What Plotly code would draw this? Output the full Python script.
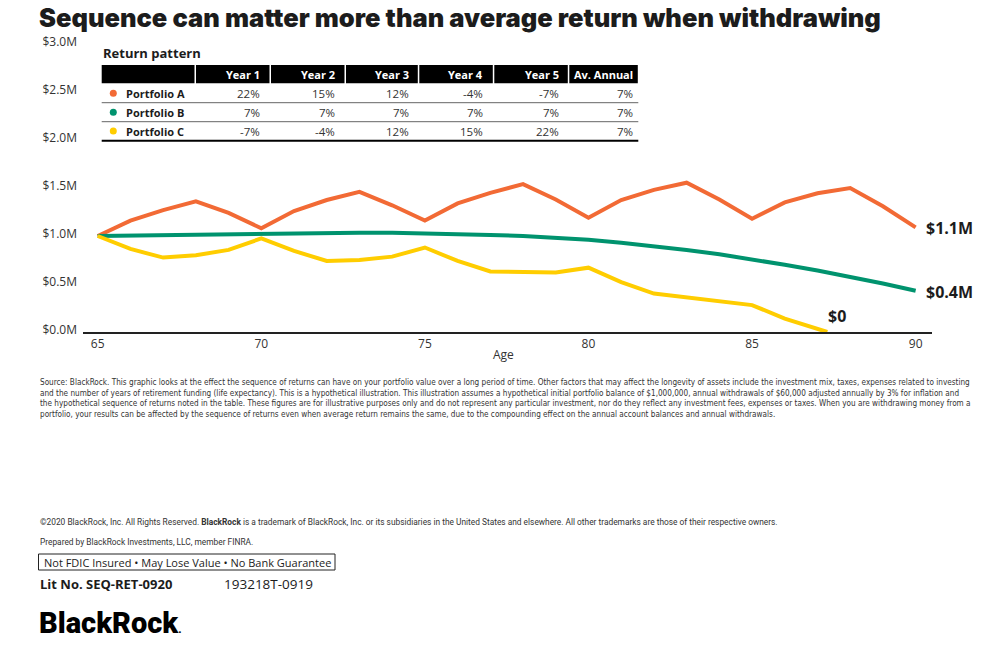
import plotly.graph_objects as go

# ---------------- data ----------------
ages = list(range(65, 91))
portfolio_a = [1.0, 1.16, 1.27, 1.36, 1.24, 1.08, 1.26, 1.375, 1.46, 1.32, 1.16, 1.34, 1.45,
               1.54, 1.38, 1.19, 1.375, 1.48, 1.555, 1.38, 1.18, 1.35, 1.445, 1.50, 1.31, 1.09]
portfolio_b = [1.0, 1.005, 1.012, 1.02, 1.025, 1.03, 1.033, 1.035, 1.035, 1.033, 1.028, 1.02, 1.01,
               1.0, 0.985, 0.96, 0.93, 0.895, 0.855, 0.81, 0.76, 0.70, 0.64, 0.575, 0.505, 0.43]
ages_c = list(range(65, 88)) + [87.3]
portfolio_c = [1.0, 0.865, 0.775, 0.80, 0.855, 0.975, 0.845, 0.74, 0.75, 0.785, 0.88, 0.74, 0.63,
               0.62, 0.62, 0.67, 0.52, 0.40, 0.36, 0.31, 0.28, 0.14, 0.03, 0.0]

y_ticks = [0, 0.5, 1.0, 1.5, 2.0, 2.5, 3.0]
y_tick_text = ["$0.0M", "$0.5M", "$1.0M", "$1.5M", "$2.0M", "$2.5M", "$3.0M"]
x_ticks = [65, 70, 75, 80, 85, 90]

table_header = ["Year 1", "Year 2", "Year 3", "Year 4", "Year 5", "Av. Annual"]
portfolio_names = ["Portfolio A", "Portfolio B", "Portfolio C"]
returns_a = ["22%", "15%", "12%", "-4%", "-7%", "7%"]
returns_b = ["7%", "7%", "7%", "7%", "7%", "7%"]
returns_c = ["-7%", "-4%", "12%", "15%", "22%", "7%"]

# ---------------- styles ----------------
ORANGE = "#F26A35"
GREEN = "#00936E"
YELLOW = "#FFCD00"
DARK = "#1c1c1c"
TXT = "#333333"
colors = [ORANGE, GREEN, YELLOW]

L, R, T, B = 83, 72, 44, 322
W, H = 1004, 654
PW, PH = W - L - R, H - T - B


def px(x):
    return (x - L) / PW


def py(y):
    return (H - B - y) / PH


fig = go.Figure()
for xs, ys, c, n in [(ages, portfolio_a, ORANGE, "Portfolio A"),
                     (ages, portfolio_b, GREEN, "Portfolio B"),
                     (ages_c, portfolio_c, YELLOW, "Portfolio C")]:
    fig.add_trace(go.Scatter(x=xs, y=ys, mode="lines", name=n,
                             line=dict(color=c, width=4, shape="linear"),
                             hoverinfo="skip", showlegend=False))

annotations = []
shapes = []

# end labels
for xs, ys, txt in [(ages, portfolio_a, f"${portfolio_a[-1]:.1f}M"),
                    (ages, portfolio_b, f"${portfolio_b[-1]:.1f}M")]:
    annotations.append(dict(x=xs[-1], y=ys[-1], xref="x", yref="y", text=txt,
                            showarrow=False, xanchor="left", yanchor="middle", xshift=8, yshift=-1,
                            font=dict(family="Open Sans", size=16, color=DARK, weight=700)))
annotations.append(dict(x=ages_c[-1], y=portfolio_c[-1], xref="x", yref="y", text="$0",
                        showarrow=False, xanchor="left", yanchor="bottom", xshift=-1, yshift=3,
                        font=dict(family="Open Sans", size=16, color=DARK, weight=700)))

# title
annotations.append(dict(x=px(37), y=py(17), xref="paper", yref="paper",
                        text="Sequence can matter more than average return when withdrawing",
                        showarrow=False, xanchor="left", yanchor="middle",
                        font=dict(family="Inter", size=25.5, color=DARK, weight=900)))

# Age axis label
annotations.append(dict(x=px(503), y=py(354), xref="paper", yref="paper", text="Age",
                        showarrow=False, xanchor="center", yanchor="middle",
                        font=dict(family="Open Sans", size=12, color=TXT)))

# ---------------- table ----------------
annotations.append(dict(x=px(101), y=py(53), xref="paper", yref="paper", text="<b>Return pattern</b>",
                        showarrow=False, xanchor="left", yanchor="middle",
                        font=dict(family="Open Sans", size=13, color=DARK)))
col_edges = [101.7, 195, 270, 345, 418.3, 493.3, 568.3, 638.3]
text_right = [261.7, 336.7, 410.7, 485, 561, 635]
hdr_top, hdr_bot = 65, 83.3
for i in range(len(col_edges) - 1):
    x0 = col_edges[i] + (0 if i == 0 else 1)
    x1 = col_edges[i + 1] - 0.5
    shapes.append(dict(type="rect", xref="paper", yref="paper", x0=px(x0), x1=px(x1),
                       y0=py(hdr_bot), y1=py(hdr_top), fillcolor="#000000", line=dict(width=0)))
for h, xr in zip(table_header, text_right):
    annotations.append(dict(x=px(xr), y=py(75), xref="paper", yref="paper", text=f"<b>{h}</b>",
                            showarrow=False, xanchor="right", yanchor="middle",
                            font=dict(family="Open Sans", size=11, color="#ffffff")))
row_y = [93.3, 112.3, 131]
line_y = [102.7, 121.7, 140.7]
for r, (name, vals) in enumerate(zip(portfolio_names, [returns_a, returns_b, returns_c])):
    shapes.append(dict(type="circle", xref="paper", yref="paper",
                       x0=px(113.3 - 3.5), x1=px(113.3 + 3.5),
                       y0=py(row_y[r] + 3.5), y1=py(row_y[r] - 3.5),
                       fillcolor=colors[r], line=dict(width=0)))
    annotations.append(dict(x=px(124), y=py(row_y[r]), xref="paper", yref="paper", text=f"<b>{name}</b>",
                            showarrow=False, xanchor="left", yanchor="middle",
                            font=dict(family="Open Sans", size=11, color=DARK)))
    for v, xr in zip(vals, text_right):
        annotations.append(dict(x=px(xr), y=py(row_y[r]), xref="paper", yref="paper", text=v,
                                showarrow=False, xanchor="right", yanchor="middle",
                                font=dict(family="Open Sans", size=11.5, color=TXT)))
    shapes.append(dict(type="line", xref="paper", yref="paper", x0=px(101.7), x1=px(638.3),
                       y0=py(line_y[r]), y1=py(line_y[r]),
                       line=dict(color="#000000" if r == 2 else "#666666", width=2 if r == 2 else 1)))

# ---------------- footnotes ----------------
note = ("Source: BlackRock. This graphic looks at the effect the sequence of returns can have on your portfolio value over a long period of time. Other factors that may affect the longevity of assets include the investment mix, taxes, expenses related to investing<br>"
        "and the number of years of retirement funding (life expectancy). This is a hypothetical illustration. This illustration assumes a hypothetical initial portfolio balance of $1,000,000, annual withdrawals of $60,000 adjusted annually by 3% for inflation and<br>"
        "the hypothetical sequence of returns noted in the table. These figures are for illustrative purposes only and do not represent any particular investment, nor do they reflect any investment fees, expenses or taxes. When you are withdrawing money from a<br>"
        "portfolio, your results can be affected by the sequence of returns even when average return remains the same, due to the compounding effect on the annual account balances and annual withdrawals.")
annotations.append(dict(x=px(38), y=py(375), xref="paper", yref="paper", text=note,
                        showarrow=False, xanchor="left", yanchor="top", align="left",
                        font=dict(family="DejaVu Sans Condensed", size=8.15, color=TXT)))
annotations.append(dict(x=px(38), y=py(522), xref="paper", yref="paper",
                        text="©2020 BlackRock, Inc. All Rights Reserved. <b>BlackRock</b> is a trademark of BlackRock, Inc. or its subsidiaries in the United States and elsewhere. All other trademarks are those of their respective owners.",
                        showarrow=False, xanchor="left", yanchor="middle",
                        font=dict(family="Roboto", size=8.35, color=TXT)))
annotations.append(dict(x=px(38), y=py(542), xref="paper", yref="paper",
                        text="Prepared by BlackRock Investments, LLC, member FINRA.",
                        showarrow=False, xanchor="left", yanchor="middle",
                        font=dict(family="Roboto", size=8.35, color=TXT)))
shapes.append(dict(type="rect", xref="paper", yref="paper", x0=px(38.5), x1=px(335),
                   y0=py(570), y1=py(554), line=dict(color="#222222", width=1), fillcolor="rgba(0,0,0,0)"))
annotations.append(dict(x=px(42), y=py(562), xref="paper", yref="paper",
                        text="Not FDIC Insured • May Lose Value • No Bank Guarantee",
                        showarrow=False, xanchor="left", yanchor="middle",
                        font=dict(family="Open Sans", size=11, color=DARK)))
annotations.append(dict(x=px(38), y=py(584), xref="paper", yref="paper",
                        text="<b>Lit No. SEQ-RET-0920</b>", showarrow=False, xanchor="left", yanchor="middle",
                        font=dict(family="Open Sans", size=13, color=DARK)))
annotations.append(dict(x=px(222), y=py(584), xref="paper", yref="paper",
                        text="193218T-0919", showarrow=False, xanchor="left", yanchor="middle",
                        font=dict(family="Open Sans", size=13.5, color=DARK)))
annotations.append(dict(x=px(37), y=py(623), xref="paper", yref="paper",
                        text="BlackRock<span style='font-size:11px'>.</span>", showarrow=False,
                        xanchor="left", yanchor="middle",
                        font=dict(family="Roboto", size=29, color="#000000", weight=900)))

fig.update_layout(
    width=W, height=H, autosize=False,
    margin=dict(l=L, r=R, t=T, b=B, pad=0),
    paper_bgcolor="#ffffff", plot_bgcolor="#ffffff",
    showlegend=False,
    annotations=annotations, shapes=shapes,
    xaxis=dict(range=[64.55, 90.5], tickvals=x_ticks, showgrid=False, zeroline=False,
               showline=True, linecolor="#222222", linewidth=1.5, ticks="",
               ticklabelstandoff=0,
               tickfont=dict(family="Open Sans", size=12, color=TXT)),
    yaxis=dict(range=[0, 3.0], tickvals=y_ticks, ticktext=y_tick_text, showgrid=False,
               zeroline=False, showline=False, ticks="", ticklabelstandoff=5, ticklabelshift=-2,
               tickfont=dict(family="Open Sans", size=12, color=TXT)),
)

fig.write_html("out.html", config={"displayModeBar": False},
               post_script="document.body.style.margin='0px';")
